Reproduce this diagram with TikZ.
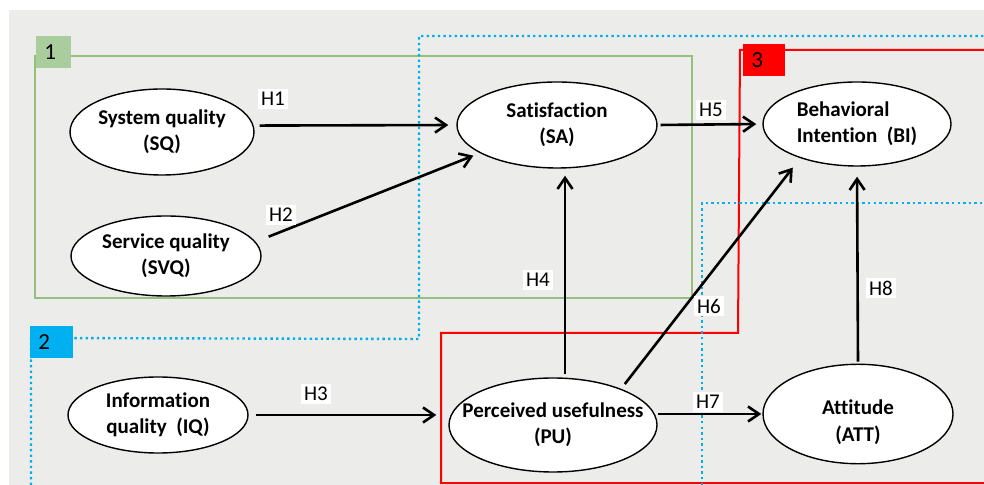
\documentclass[tikz,border=0pt]{standalone}
\usepackage{fontspec}
\setmainfont[Ligatures=NoCommon]{Carlito}
\usetikzlibrary{arrows.meta,shapes.geometric}
\definecolor{paper}{RGB}{236,236,234}
\definecolor{boxgreen}{RGB}{150,190,125}
\definecolor{taggreen}{RGB}{170,205,158}
\definecolor{boxblue}{RGB}{0,176,240}
\renewcommand\arraystretch{1.1}
\newcommand\ctext[3][c]{\makebox[0pt]{\begin{tabular}{@{}#1@{}}#2\\#3\end{tabular}}}

\begin{document}
\begin{tikzpicture}[x=0.5pt,y=-0.5pt,
        construct/.style={ellipse, draw, line width=0.7pt, fill=white, inner sep=0pt, font=\bfseries\fontsize{10.5}{12}\selectfont},
        hyp/.style={fill=white, inner sep=1.5pt, font=\fontsize{10.5}{12}\selectfont},
        hyparrow/.style={line width=1.3pt, -{Straight Barb[length=5.5pt,width=7.5pt]}},
        tag/.style={anchor=north west, inner xsep=4pt, inner ysep=0pt, minimum height=16pt, text width=#1, align=left, font=\fontsize{11.5}{12}\selectfont},
        dotline/.style={boxblue, line width=1.2pt, dash pattern=on 1.2pt off 1.6pt}
    ]
    \useasboundingbox (0,0) rectangle (984,485);
    \fill[paper] (9,10) rectangle (984,485);

    % group boxes
    \draw[boxgreen, line width=0.8pt] (35,56) rectangle (692,298);
    \draw[red, line width=1pt] (984,50) -- (740,50) -- (738,333) -- (441,333) -- (441,483) -- (984,483);
    \draw[dotline] (31,485) -- (31,338) -- (419,339) -- (419,36) -- (984,36);
    \draw[dotline] (702,485) -- (702,203) -- (984,203);

    % constructs
    \node[construct, minimum width=92pt, minimum height=43pt] (sq) at (162,132) {\ctext{System quality}{(SQ)}};
    \node[construct, minimum width=95pt, minimum height=40pt] (svq) at (166,256) {\ctext{Service quality}{(SVQ)}};
    \node[construct, minimum width=100pt, minimum height=43pt] (sa) at (557,125) {\ctext{Satisfaction}{(SA)}};
    \node[construct, minimum width=94pt, minimum height=42pt] (bi) at (857,124) {\ctext[l]{Behavioral}{Intention~~(BI)}};
    \node[construct, minimum width=90pt, minimum height=38pt] (iq) at (158,415) {\ctext{Information}{quality~~(IQ)}};
    \node[construct, minimum width=104pt, minimum height=47pt] (pu) at (553,425) {\ctext{Perceived usefulness}{(PU)}};
    \node[construct, minimum width=95pt, minimum height=37pt] (att) at (858,414) {\ctext{\rule{0pt}{18pt}Attitude}{(ATT)}};

    % hypotheses
    \draw[hyparrow, shorten <=3pt, shorten >=4pt] (sq.4) -- (sa.west);
    \draw[hyparrow, shorten <=7pt, shorten >=3.5pt] (svq.9) -- (sa.200);
    \draw[hyparrow, shorten <=3.5pt, shorten >=6pt] (iq.east) -- (iq.east -| pu.west);
    \draw[hyparrow, shorten <=1.5pt, shorten >=3.5pt] ([xshift=6pt]pu.north) -- ([xshift=6pt]pu.north |- sa.south);
    \draw[hyparrow, shorten <=1.5pt, shorten >=3pt] (sa.east) -- (bi.west);
    \draw[hyparrow, shorten <=3pt, shorten >=6pt] (pu.28) -- (bi.211);
    \draw[hyparrow, shorten >=0.5pt] (att.west -| pu.east) -- (att.west);
    \draw[hyparrow, shorten <=1pt, shorten >=5pt] (att.north) -- (bi.south);

    \node[hyp] (h1) at (273,99) {H1};
    \node[hyp] (h2) at (281,215) {H2};
    \node[hyp] (h3) at (316,394) {H3};
    \node[hyp] (h4) at (538,280) {H4};
    \node[hyp] (h5) at (711,110) {H5};
    \node[hyp] (h6) at (709,306) {H6};
    \node[hyp] (h7) at (708,402) {H7};
    \node[hyp] (h8) at (881,288) {H8};

    % box tags
    \node[tag=9.5pt, fill=taggreen] (tag1) at (36,36) {1};
    \node[tag=13.5pt, fill=boxblue] (tag2) at (30,326) {2};
    \node[tag=13pt, fill=red] (tag3) at (743,44) {3};
\end{tikzpicture}
\end{document}
